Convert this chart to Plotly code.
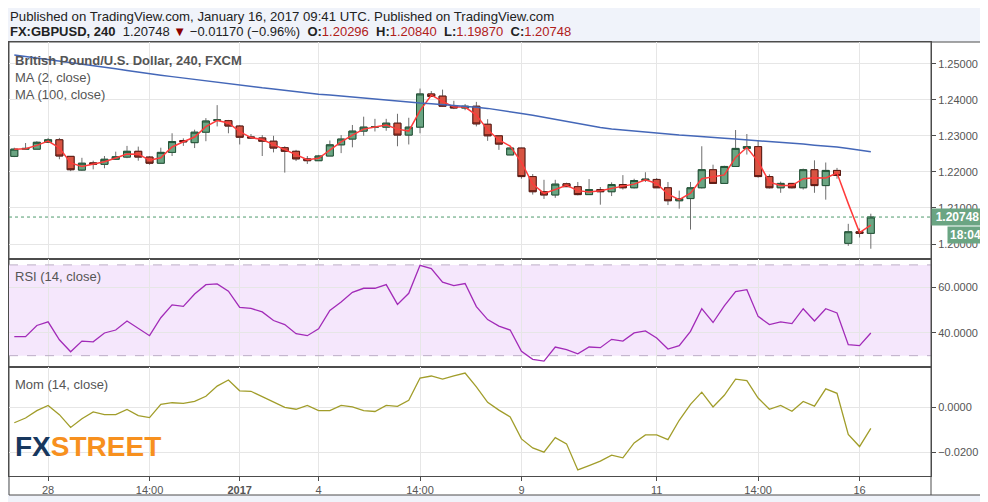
import pandas as pd
import plotly.graph_objects as go
from plotly.subplots import make_subplots

# GBPUSD 240 (FXCM)
opens = [1.2243, 1.2263, 1.2263, 1.2282, 1.2289, 1.2243, 1.2205, 1.2225, 1.2221, 1.2235,
         1.2241, 1.2257, 1.2241, 1.2224, 1.2254, 1.2287, 1.2281, 1.2310, 1.2343, 1.2342,
         1.2327, 1.2297, 1.2294, 1.2285, 1.2267, 1.2257, 1.2236, 1.2231, 1.2244, 1.2275,
         1.2291, 1.2313, 1.2324, 1.2324, 1.2335, 1.2302, 1.2324, 1.2416, 1.2410, 1.2382,
         1.2377, 1.2382, 1.2332, 1.2300, 1.2247, 1.2266, 1.2187, 1.2145, 1.2136, 1.2167,
         1.2159, 1.2137, 1.2151, 1.2145, 1.2165, 1.2156, 1.2176, 1.2179, 1.2156, 1.2120,
         1.2126, 1.2156, 1.2206, 1.2168, 1.2215, 1.2265, 1.2270, 1.2187, 1.2156, 1.2168,
         1.2156, 1.2206, 1.2162, 1.2204, 1.2002, 1.2034, 1.20296]
highs = [1.2267, 1.2280, 1.2285, 1.2294, 1.2294, 1.2244, 1.2239, 1.2231, 1.2244, 1.2256,
         1.2272, 1.2270, 1.2244, 1.2267, 1.2307, 1.2293, 1.2317, 1.2349, 1.2385, 1.2344,
         1.2330, 1.2305, 1.2302, 1.2300, 1.2271, 1.2261, 1.2244, 1.2247, 1.2287, 1.2302,
         1.2330, 1.2353, 1.2347, 1.2347, 1.2361, 1.2350, 1.2431, 1.2424, 1.2428, 1.2397,
         1.2388, 1.2394, 1.2346, 1.2300, 1.2268, 1.2267, 1.2194, 1.2178, 1.2178, 1.2170,
         1.2172, 1.2180, 1.2158, 1.2171, 1.2191, 1.2181, 1.2199, 1.2183, 1.2172, 1.2148,
         1.2172, 1.2271, 1.2220, 1.2217, 1.2316, 1.2305, 1.2288, 1.2193, 1.2173, 1.2169,
         1.2209, 1.2232, 1.2226, 1.2211, 1.2056, 1.2043, 1.20840]
lows = [1.2241, 1.2263, 1.2263, 1.2281, 1.2235, 1.2202, 1.2203, 1.2207, 1.2210, 1.2235,
        1.2238, 1.2231, 1.2220, 1.2224, 1.2244, 1.2272, 1.2266, 1.2285, 1.2326, 1.2307,
        1.2276, 1.2293, 1.2244, 1.2254, 1.2198, 1.2230, 1.2222, 1.2231, 1.2244, 1.2252,
        1.2268, 1.2300, 1.2312, 1.2314, 1.2271, 1.2276, 1.2307, 1.2408, 1.2380, 1.2374,
        1.2371, 1.2326, 1.2286, 1.2261, 1.2247, 1.2181, 1.2137, 1.2125, 1.2128, 1.2158,
        1.2135, 1.2137, 1.2109, 1.2133, 1.2151, 1.2154, 1.2172, 1.2156, 1.2108, 1.2098,
        1.2040, 1.2154, 1.2167, 1.2167, 1.2215, 1.2248, 1.2184, 1.2154, 1.2142, 1.2154,
        1.2151, 1.2142, 1.2123, 1.2181, 1.1995, 1.2018, 1.19870]
closes = [1.2263, 1.2265, 1.2282, 1.2289, 1.2244, 1.2206, 1.2224, 1.2221, 1.2235, 1.2242,
          1.2257, 1.2241, 1.2224, 1.2254, 1.2284, 1.2283, 1.2310, 1.2341, 1.2344, 1.2327,
          1.2296, 1.2294, 1.2285, 1.2266, 1.2257, 1.2236, 1.2231, 1.2244, 1.2275, 1.2291,
          1.2313, 1.2324, 1.2325, 1.2335, 1.2302, 1.2324, 1.2416, 1.2409, 1.2382, 1.2377,
          1.2382, 1.2333, 1.2300, 1.2277, 1.2266, 1.2187, 1.2145, 1.2136, 1.2166, 1.2159,
          1.2137, 1.2151, 1.2145, 1.2165, 1.2156, 1.2176, 1.2180, 1.2156, 1.2120, 1.2126,
          1.2156, 1.2206, 1.2168, 1.2215, 1.2265, 1.2270, 1.2187, 1.2156, 1.2168, 1.2156,
          1.2206, 1.2162, 1.2204, 1.2190, 1.2034, 1.20296, 1.20748]
ma100 = [1.2524, 1.2520, 1.2516, 1.2512, 1.2507, 1.2502, 1.2498, 1.2494, 1.2490, 1.2486,
         1.2481, 1.2476, 1.2472, 1.2468, 1.2464, 1.2460, 1.2456, 1.2452, 1.2448, 1.2444,
         1.2440, 1.2437, 1.2433, 1.2430, 1.2426, 1.2422, 1.2418, 1.2415, 1.2413, 1.2410,
         1.2408, 1.2405, 1.2402, 1.2400, 1.2397, 1.2394, 1.2391, 1.2389, 1.2387, 1.2384,
         1.2382, 1.2379, 1.2376, 1.2372, 1.2366, 1.2362, 1.2357, 1.2351, 1.2346, 1.2340,
         1.2334, 1.2329, 1.2323, 1.2319, 1.2316, 1.2314, 1.2311, 1.2307, 1.2305, 1.2302,
         1.2300, 1.2297, 1.2295, 1.2293, 1.2291, 1.2289, 1.2287, 1.2284, 1.2282, 1.2279,
         1.2277, 1.2274, 1.2272, 1.2269, 1.2265, 1.2260, 1.2256]
rsi = [38.4, 38.4, 43.3, 44.9, 37.0, 31.7, 36.4, 36.1, 40.0, 41.3,
       45.3, 42.2, 38.8, 46.7, 52.4, 51.7, 57.2, 61.3, 61.6, 58.4,
       51.3, 50.8, 49.3, 45.5, 43.7, 39.7, 38.8, 41.8, 49.9, 53.6,
       57.9, 59.7, 59.7, 61.3, 52.6, 57.5, 69.8, 68.4, 62.4, 60.9,
       61.8, 51.6, 45.9, 43.0, 41.3, 31.9, 28.4, 27.6, 33.8, 32.7,
       30.8, 33.8, 33.5, 37.2, 36.4, 40.0, 40.9, 37.8, 32.9, 34.4,
       40.7, 50.7, 44.6, 51.9, 58.2, 59.1, 47.3, 43.7, 44.9, 44.1,
       50.7, 45.3, 50.7, 48.8, 34.8, 34.4, 40.0]
mom = [-0.0068, -0.0047, -0.0014, 0.0009, -0.0032, -0.0089, -0.0050, -0.0020, -0.0032, -0.0032,
       -0.0009, -0.0036, -0.0045, 0.0014, 0.0021, 0.0018, 0.0027, 0.0050, 0.0095, 0.0122,
       0.0074, 0.0072, 0.0048, 0.0023, 0.0000, -0.0008, 0.0009, -0.0014, -0.0014, 0.0009,
       0.0003, -0.0014, -0.0018, 0.0009, 0.0005, 0.0032, 0.0131, 0.0140, 0.0126, 0.0140,
       0.0153, 0.0092, 0.0023, -0.0012, -0.0042, -0.0140, -0.0180, -0.0199, -0.0134, -0.0162,
       -0.0278, -0.0259, -0.0239, -0.0212, -0.0224, -0.0158, -0.0122, -0.0122, -0.0143, -0.0057,
       0.0014, 0.0068, 0.0002, 0.0054, 0.0126, 0.0119, 0.0042, -0.0008, 0.0009, -0.0017,
       0.0027, 0.0006, 0.0083, 0.0063, -0.0120, -0.0174, -0.0093]
tick_pos = [3, 12, 20, 27, 36, 45, 57, 66, 75]
tick_text = ['28', '14:00', '<b>2017</b>', '4', '14:00', '9', '11', '14:00', '16']
last_price = 1.20748

df = pd.DataFrame({'open': opens, 'high': highs, 'low': lows, 'close': closes})
df['ma2'] = df['close'].rolling(2, min_periods=1).mean()
df['body_hi'] = df[['open', 'close']].max(axis=1)
df['body_lo'] = df[['open', 'close']].min(axis=1)
x = list(range(len(df)))

# a pagina tem margem de 8px no body; coordenadas abaixo sao da janela
OFF = 8
W, H = 988 - OFF, 502 - OFF
L, R, T, B = 1, 931 - OFF, 42 - OFF, 476 - OFF


def px(xw):
    return (xw - OFF - L) / (R - L)


def py(yw):
    return (B - (yw - OFF)) / (B - T)


GREEN, GREEN_D = '#6ba583', '#225437'
RED, RED_D = '#d75442', '#5b1a13'
AX = '#4c4c4c'
FONT = 'Liberation Sans, Arial, sans-serif'

fig = make_subplots(rows=3, cols=1, shared_xaxes=True, vertical_spacing=0,
                    row_heights=[217, 108, 109])

# moldura branca (primeiro, fica por baixo de tudo)
fig.add_shape(type='rect', xref='paper', yref='paper', x0=0, x1=px(982), y0=py(495), y1=1,
              fillcolor='white', line=dict(color=AX, width=1), layer='below')

# pavios
fig.add_trace(go.Candlestick(x=x, open=df['open'], high=df['high'], low=df['low'], close=df['close'],
                             increasing=dict(line=dict(color='#6e6e6e', width=1), fillcolor=GREEN),
                             decreasing=dict(line=dict(color='#6e6e6e', width=1), fillcolor=RED),
                             whiskerwidth=0, hoverinfo='skip', showlegend=False), row=1, col=1)
# corpos
fig.add_trace(go.Candlestick(x=x, open=df['open'], high=df['body_hi'], low=df['body_lo'], close=df['close'],
                             increasing=dict(line=dict(color=GREEN_D, width=1), fillcolor=GREEN),
                             decreasing=dict(line=dict(color=RED_D, width=1), fillcolor=RED),
                             whiskerwidth=0, hoverinfo='skip', showlegend=False), row=1, col=1)
fig.add_trace(go.Scatter(x=x, y=df['ma2'], mode='lines', line=dict(color='#ff3b3b', width=1.5),
                         hoverinfo='skip', showlegend=False), row=1, col=1)
fig.add_trace(go.Scatter(x=x, y=ma100, mode='lines', line=dict(color='#4467b8', width=1.5),
                         hoverinfo='skip', showlegend=False), row=1, col=1)
fig.add_trace(go.Scatter(x=x, y=rsi, mode='lines', line=dict(color='#a22bb8', width=1.3),
                         hoverinfo='skip', showlegend=False), row=2, col=1)
fig.add_trace(go.Scatter(x=x, y=mom, mode='lines', line=dict(color='#a19d2a', width=1.3),
                         hoverinfo='skip', showlegend=False), row=3, col=1)

xax = dict(range=[-0.47, 81.34], tickvals=tick_pos, ticktext=tick_text, showgrid=True,
           gridcolor='#e6e6e6', showline=True, mirror=True, linecolor=AX, linewidth=1,
           zeroline=False, showticklabels=False, fixedrange=True)
for r in (1, 2, 3):
    fig.update_xaxes(**xax, row=r, col=1)
fig.update_xaxes(showticklabels=True, ticks='outside', ticklen=4, tickcolor=AX,
                 tickfont=dict(size=11, color='#555', family=FONT), row=3, col=1)
fig.update_xaxes(rangeslider_visible=False, row=1, col=1)

yax = dict(side='right', showgrid=True, gridcolor='#e6e6e6', showline=True, mirror=True,
           linecolor=AX, linewidth=1, zeroline=False, ticks='outside', ticklen=4, tickcolor=AX,
           tickfont=dict(size=11, color='#555', family=FONT), fixedrange=True)
fig.update_yaxes(**yax, range=[1.19585, 1.2560], tickvals=[1.20, 1.21, 1.22, 1.23, 1.24, 1.25],
                 tickformat='.5f', row=1, col=1)
fig.update_yaxes(**yax, range=[25.0, 72.6], tickvals=[40, 60], tickformat='.4f', row=2, col=1)
fig.update_yaxes(**yax, range=[-0.0305, 0.0180], tickvals=[-0.02, 0], tickformat='.4f', row=3, col=1)

# faixa do RSI
fig.add_shape(type='rect', xref='x2 domain', yref='y2', x0=0, x1=1, y0=30, y1=70,
              fillcolor='#f5e7fc', line_width=0, layer='below')
for lvl in (30, 70):
    fig.add_shape(type='line', xref='x2 domain', yref='y2', x0=0, x1=1, y0=lvl, y1=lvl,
                  line=dict(color='#bcaec6', width=1, dash='dash'))
# linha do ultimo preco
fig.add_shape(type='line', xref='x domain', yref='y', x0=0, x1=1, y0=last_price, y1=last_price,
              line=dict(color='#4f9a6e', width=1, dash='dot'))
fig.add_shape(type='line', xref='paper', yref='paper', x0=1, x1=1, y0=py(495), y1=1,
              line=dict(color=AX, width=1))

ann = []


def txt(xw, yw, s, size=13, color='#555', **kw):
    ann.append(dict(x=px(xw), y=py(yw), xref='paper', yref='paper', text=s, showarrow=False,
                    xanchor='left', yanchor='middle', font=dict(size=size, color=color, family=FONT), **kw))


txt(9, 16.5, 'Published on TradingView.com, January 16, 2017 09:41 UTC. Published on TradingView.com',
    size=13.2, color='#222', borderpad=0)
txt(9, 31, "<b>FX:GBPUSD, 240</b>  1.20748 <span style='color:#8b0000'>▼</span> −0.01170 (−0.96%)  "
    "<b>O:</b><span style='color:#b0201a'>1.20296</span>  <b>H:</b><span style='color:#b0201a'>1.20840</span>  "
    "<b>L:</b><span style='color:#b0201a'>1.19870</span>  <b>C:</b><span style='color:#b0201a'>1.20748</span>",
    size=13, color='#222', borderpad=0)
txt(13, 61, '<b>British Pound/U.S. Dollar, 240, FXCM</b>', size=13, color='#555')
txt(13, 77, 'MA (2, close)', size=13)
txt(13, 94, 'MA (100, close)', size=13)
txt(13, 276, 'RSI (14, close)', size=13)
txt(13, 384, 'Mom (14, close)', size=13)

# logotipo
ann.append(dict(x=px(13), y=py(446), xref='paper', yref='paper', showarrow=False, xanchor='left',
                yanchor='middle',
                text="<b><span style='color:#17375e'>FX</span><span style='color:#f7901e'>STREET</span></b>",
                font=dict(size=28, family='Liberation Sans, Arial, sans-serif')))
# etiquetas verdes do eixo de precos
ann.append(dict(x=1, y=last_price, xref='paper', yref='y', showarrow=False, xanchor='left',
                yanchor='middle', text='<b>1.20748</b>', bgcolor=GREEN, borderpad=1, width=49,
                font=dict(size=12, color='white', family=FONT)))
ann.append(dict(x=px(947), y=last_price, xref='paper', yref='y', yshift=-18, showarrow=False,
                xanchor='left', yanchor='middle', text='<b>18:04</b>', bgcolor=GREEN, borderpad=1,
                width=33, font=dict(size=12, color='white', family=FONT)))

fig.update_layout(width=W, height=H, margin=dict(l=L, r=W - R, t=T, b=H - B),
                  paper_bgcolor='#f0f3fa', plot_bgcolor='rgba(0,0,0,0)', boxgap=0.38, boxgroupgap=0,
                  annotations=ann, showlegend=False, hovermode=False,
                  font=dict(family=FONT))

fig.write_html("out.html")
